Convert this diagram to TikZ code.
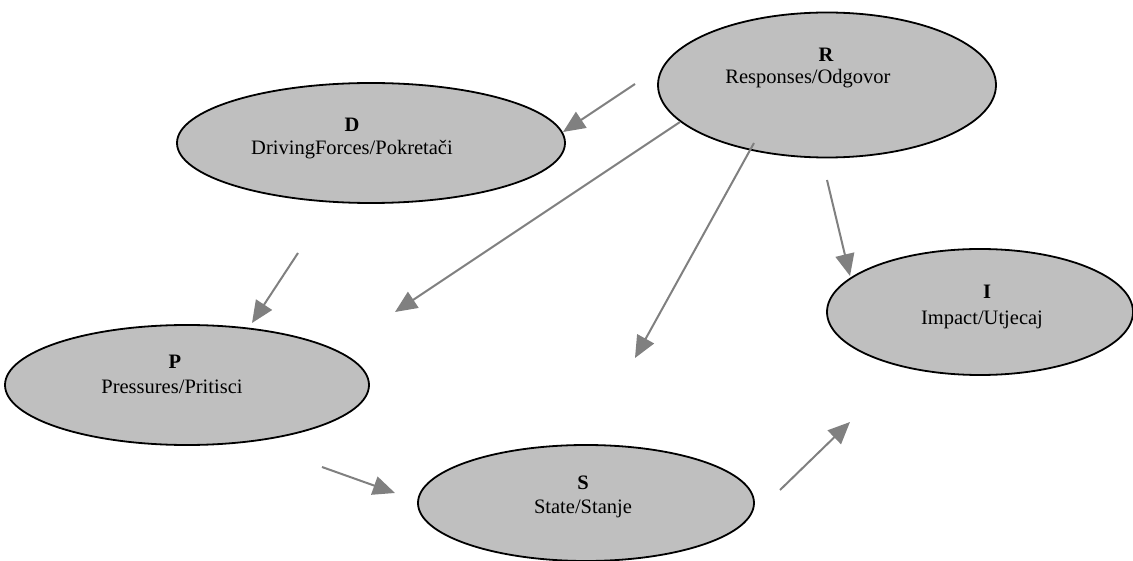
\documentclass[tikz,border=0pt]{standalone}
\usepackage{fontspec}
\setmainfont{Liberation Serif}
\usepackage{xcolor}
\usepackage{tikz}
\usetikzlibrary{shapes,shapes.geometric}
\usetikzlibrary{calc,arrows.meta,positioning}

\begin{document}
\begin{tikzpicture}[x=1pt,y=-1pt]
	\tikzstyle{bubble}=[ellipse,draw=black,line width=1.8pt,fill=black!25,inner sep=0pt]
	\tikzstyle{lbl}=[inner sep=0pt,font=\fontsize{20.5}{24}\selectfont]
	\tikzstyle{letter}=[inner sep=0pt,font=\fontsize{20.5}{24}\selectfont\bfseries]
	\tikzstyle{flow}=[draw=gray,line width=2pt,-{Triangle[length=22pt,width=19pt]}]
	\useasboundingbox (0,0) rectangle (1133,561);
	% the five ellipses
	\node[bubble,minimum width=338pt,minimum height=145pt] (resp) at (827,85) {};
	\node[bubble,minimum width=388pt,minimum height=120pt] (drive) at (371,143) {};
	\node[bubble,minimum width=364pt,minimum height=120pt] (press) at (187,385) {};
	\node[bubble,minimum width=336pt,minimum height=116pt] (state) at (586,503) {};
	\node[bubble,minimum width=306pt,minimum height=126pt] (impact) at (980,312) {};
	% labels
	\node[letter] (respL) at (826,55) {R};
	\node[lbl] (respT) at (808,79) {Responses/Odgovor};
	\node[letter] (driveL) at (352,125) {D};
	\node[lbl] (driveT) at (352,150) {DrivingForces/Pokretači};
	\node[letter] (pressL) at (175,362) {P};
	\node[lbl] (pressT) at (172,387) {Pressures/Pritisci};
	\node[letter] (stateL) at (583,483) {S};
	\node[lbl] (stateT) at (583,509) {State/Stanje};
	\node[letter] (impactL) at (987,292) {I};
	\node[lbl] (impactT) at (982,320) {Impact/Utjecaj};
	% free arrow ends
	\coordinate (rd1) at (635,84);   \coordinate (rd2) at (563,132);
	\coordinate (rp1) at (680,122);  \coordinate (rp2) at (395,312);
	\coordinate (rs1) at (754,143);  \coordinate (rs2) at (635,358);
	\coordinate (ri1) at (827,180);  \coordinate (ri2) at (850,276);
	\coordinate (dp1) at (298,253);  \coordinate (dp2) at (252,323);
	\coordinate (ps1) at (322,467);  \coordinate (ps2) at (395,493);
	\coordinate (si1) at (780,490);  \coordinate (si2) at (850,422);
	\draw[flow] (rd1) -- (rd2);
	\draw[flow] (rp1) -- (rp2);
	\draw[flow] (rs1) -- (rs2);
	\draw[flow] (ri1) -- (ri2);
	\draw[flow] (dp1) -- (dp2);
	\draw[flow] (ps1) -- (ps2);
	\draw[flow] (si1) -- (si2);
\end{tikzpicture}
\end{document}
